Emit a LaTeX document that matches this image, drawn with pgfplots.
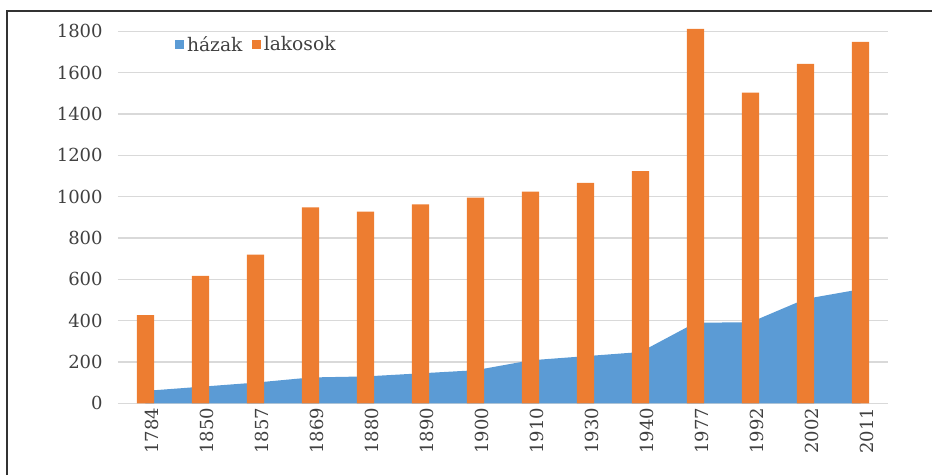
\documentclass[border=0pt]{standalone}
\usepackage{pgfplots}
\pgfplotsset{compat=1.18}
\usepackage{fontspec}
\setmainfont{DejaVu Serif}
\definecolor{hblue}{HTML}{5B9BD5}
\definecolor{lorange}{HTML}{ED7D31}
\definecolor{gridc}{HTML}{D9D9D9}
\definecolor{txt}{HTML}{404040}
\begin{document}
\begin{tikzpicture}
\useasboundingbox (0pt,0pt) rectangle (699pt,356.25pt);
\draw[line width=1.1pt, color=black!80] (5.25pt,0pt) -- (5.25pt,348pt) -- (699pt,348pt);
\begin{axis}[
  at={(88.5pt,53.775pt)}, anchor=south west,
  scale only axis, width=577.5pt, height=279pt,
  xmin=-0.5, xmax=13.5, ymin=0, ymax=1800,
  clip=false,
  axis line style={draw=none},
  tick style={draw=none},
  ytick={0,200,...,1800},
  ymajorgrids, grid style={gridc, line width=1.1pt},
  xtick={0,...,13},
  xticklabels={1784,1850,1857,1869,1880,1890,1900,1910,1930,1940,1977,1992,2002,2011},
  xticklabel style={rotate=90, anchor=east, font=\fontsize{13.5}{15}\selectfont, text=txt, yshift=-5pt},
  yticklabel style={font=\fontsize{13.5}{15}\selectfont, text=txt, xshift=-8pt},
  /pgf/number format/1000 sep={},
  /pgf/number format/assume math mode=true,
  legend style={at={(0.072,0.998)}, anchor=north west, draw=none, fill=none,
    font=\fontsize{14}{16}\selectfont, text=txt, inner sep=1pt},
  legend columns=2,
  legend cell align=left,
  /tikz/every even column/.append style={column sep=5pt},
]
\addplot[fill=hblue, draw=none,
  legend image code/.code={\fill[hblue] (2pt,-3.5pt) rectangle (9pt,3.5pt);}]
  coordinates {(0,60) (1,80) (2,100) (3,125) (4,130) (5,145) (6,160) (7,208) (8,228) (9,248) (10,390) (11,392) (12,505) (13,552)} \closedcycle;
\addlegendentry{házak}
\addplot[ybar, bar width=13pt, bar shift=0pt, fill=lorange, draw=none,
  legend image code/.code={\fill[lorange] (2pt,-3.5pt) rectangle (9pt,3.5pt);}]
  coordinates {(0,427) (1,617) (2,719) (3,948) (4,927) (5,963) (6,995) (7,1024) (8,1067) (9,1124) (10,1812) (11,1503) (12,1642) (13,1749)};
\addlegendentry{lakosok}
\end{axis}
\end{tikzpicture}
\end{document}
